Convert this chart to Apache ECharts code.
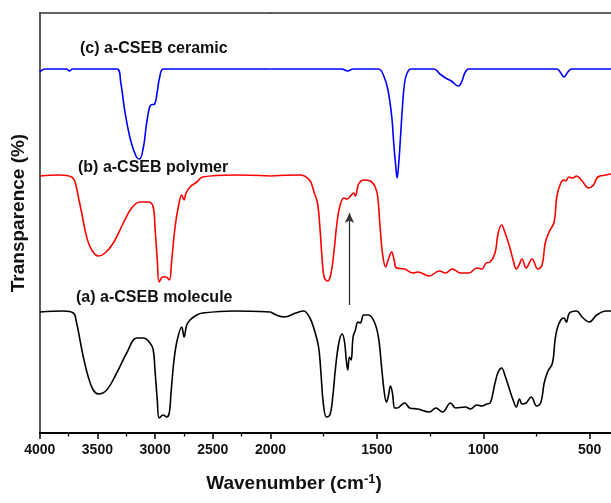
<!DOCTYPE html>
<html>
<head>
<meta charset="utf-8">
<script src="https://cdn.jsdelivr.net/npm/echarts@6/dist/echarts.min.js"></script>
<style>
html,body{margin:0;padding:0;background:#fff;}
#chart{width:611px;height:503px;}
</style>
</head>
<body>
<div id="chart"></div>
<script>
// ---- data (wavenumber in cm-1, transparence in arbitrary units) ----
const ceramicWn = [4000,3955,3770,3743,3716,3500,3331,3297,3264,3213,3162,3135,3101,3078,3054,3037,3004,2983,2960,2926,2318,2000,1665,1638,1611,1493,1466,1448,1430,1421,1412,1405,1398,1390,1381,1370,1358,1340,1232,1204,1177,1150,1118,1102,1087,1069,654,636,621,603,585,423,400];
const ceramicT  = [361,364,364,362,364,364,364,350,323,293,276,274,286,306,323,328,329,340,356,364,364,364,364,362,364,364,356,343,316,290,268,255,268,293,323,350,360,364,364,359,355,352,347,351,360,364,364,360,356,361,364,364,364];

const polymerWn = [4000,3824,3723,3694,3665,3636,3593,3549,3492,3434,3362,3275,3203,3131,3059,3016,3001,2981,2964,2934,2905,2877,2856,2827,2799,2769,2749,2732,2697,2639,2588,2318,2000,1863,1817,1794,1779,1768,1758,1748,1732,1717,1701,1686,1670,1655,1640,1624,1609,1601,1586,1562,1531,1508,1496,1485,1474,1459,1447,1431,1419,1408,1369,1331,1308,1254,1207,1177,1146,1107,1068,1030,1007,987,968,945,930,914,899,876,860,845,832,818,799,771,744,724,709,691,667,655,636,621,613,598,580,562,536,505,482,462,423,400];
const polymerT  = [257,258,256,251,236,220,196,183,177,180,190,210,225,231,231,226,206,173,151,156,156,153,173,206,226,238,233,240,246,251,256,258,257,258,253,240,230,206,176,156,152,158,183,213,230,235,234,237,240,237,249,253,252,246,236,206,180,166,173,181,173,165,164,160,161,157,162,160,164,160,160,165,164,170,171,180,200,208,201,186,173,164,168,174,165,174,164,168,190,201,211,236,250,253,252,256,255,257,252,245,248,256,258,259];

const moleculeWn = [4000,3795,3709,3680,3651,3622,3579,3536,3492,3419,3333,3246,3159,3102,3044,3016,3001,2981,2964,2929,2899,2877,2862,2836,2808,2769,2749,2726,2697,2639,2588,2318,2000,1935,1881,1845,1817,1794,1774,1763,1752,1737,1721,1709,1694,1678,1663,1652,1644,1637,1629,1621,1612,1601,1589,1578,1562,1539,1512,1493,1478,1465,1455,1447,1436,1427,1416,1404,1385,1369,1346,1308,1254,1223,1192,1154,1130,1084,1061,1030,1007,984,968,945,930,914,899,876,860,845,830,818,799,775,749,729,714,698,675,663,652,636,621,610,595,562,536,502,467,423,400];
const moleculeT  = [121,122,120,110,93,76,56,43,39,43,60,80,95,95,90,83,63,33,15,18,16,20,40,73,93,106,96,108,113,118,120,122,121,116,120,122,116,103,86,60,30,16,18,33,66,91,99,91,73,63,76,73,96,103,111,110,118,118,111,96,66,40,31,36,47,40,25,25,28,30,25,24,21,25,21,30,25,26,24,28,27,29,30,50,61,65,58,43,33,26,34,29,30,36,27,31,50,61,70,93,105,113,115,111,120,122,116,111,118,122,122];

const seriesNames = ['(a) a-CSEB molecule', '(b) a-CSEB polymer', '(c) a-CSEB ceramic'];
const majorTicksHigh = [4000, 3500, 3000, 2500, 2000];
const minorTicksHigh = [3750, 3250, 2750, 2250];
const majorTicksLow = [1500, 1000, 500];
const minorTicksLow = [1750, 1250, 750];
const arrowWn = 1629, arrowFrom = 128, arrowTo = 220;

// ---- build ----
const FONT = "'Liberation Sans', Arial, sans-serif";
function pairs(wn, t, hi) {
  const out = [];
  for (let i = 0; i < wn.length; i++) {
    if (hi ? wn[i] >= 2000 : wn[i] <= 2000) out.push([wn[i], t[i]]);
  }
  return out;
}
const curves = [
  {wn: moleculeWn, t: moleculeT, color: '#000000'},
  {wn: polymerWn, t: polymerT, color: '#ff0000'},
  {wn: ceramicWn, t: ceramicT, color: '#0000ff'}
];
const series = [];
curves.forEach((c, i) => {
  [true, false].forEach((hi, g) => {
    const s = {
      type: 'line', name: seriesNames[i], xAxisIndex: g * 3, yAxisIndex: g,
      data: pairs(c.wn, c.t, hi), showSymbol: false, symbol: 'none',
      smooth: 0.4,
      lineStyle: {color: c.color, width: 1.6}, silent: true, animation: false
    };
    if (i === 0 && !hi) {
      s.markLine = {
        silent: true, symbol: ['none', 'arrow'], symbolSize: [7, 10],
        label: {show: false},
        lineStyle: {color: '#333', width: 1.3, type: 'solid'},
        data: [[{coord: [arrowWn, arrowFrom]}, {coord: [arrowWn, arrowTo]}]]
      };
    }
    series.push(s);
  });
});

const LEFT = 39.7, BREAK = 270.5, RIGHT_END = 615.9, TOP = 13, H = 420;
function xAxesFor(gi, min, max, majors, minors) {
  return [
    {gridIndex: gi, type: 'value', min: min, max: max, inverse: true, position: 'bottom',
     axisLine: {show: true, lineStyle: {color: '#000', width: 1.8}},
     axisTick: {show: true, length: 6, customValues: majors, lineStyle: {color: '#000', width: 1.5}},
     axisLabel: {show: true, customValues: majors, margin: 10, color: '#111', fontSize: 14, fontWeight: 'bold', fontFamily: FONT,
       formatter: v => String(v)},
     splitLine: {show: false}},
    {gridIndex: gi, type: 'value', min: min, max: max, inverse: true, position: 'bottom',
     axisLine: {show: false},
     axisTick: {show: true, length: 3.5, customValues: minors, lineStyle: {color: '#000', width: 1.3}},
     axisLabel: {show: false}, splitLine: {show: false}},
    {gridIndex: gi, type: 'value', min: min, max: max, inverse: true, position: 'top',
     axisLine: {show: true, lineStyle: {color: '#333', width: 1.6}},
     axisTick: {show: false}, axisLabel: {show: false}, splitLine: {show: false}}
  ];
}

const option = {
  backgroundColor: '#ffffff',
  animation: false,
  grid: [
    {left: LEFT, top: TOP, width: BREAK - LEFT, height: H},
    {left: BREAK, top: TOP, width: RIGHT_END - BREAK, height: H}
  ],
  xAxis: [].concat(
    xAxesFor(0, 2000, 4000, majorTicksHigh, minorTicksHigh),
    xAxesFor(1, 400, 2000, majorTicksLow, minorTicksLow)
  ),
  yAxis: [
    {gridIndex: 0, type: 'value', min: 0, max: H,
     axisLine: {show: true, lineStyle: {color: '#333', width: 1.6}},
     axisTick: {show: false}, axisLabel: {show: false}, splitLine: {show: false}},
    {gridIndex: 1, type: 'value', min: 0, max: H, show: false, splitLine: {show: false}}
  ],
  series: series,
  graphic: [
    {type: 'text', left: 80, top: 41, silent: true,
     style: {text: seriesNames[2], fontSize: 16, fontWeight: 'bold', fontFamily: FONT, fill: '#111'}},
    {type: 'text', left: 78, top: 160, silent: true,
     style: {text: seriesNames[1], fontSize: 16, fontWeight: 'bold', fontFamily: FONT, fill: '#111'}},
    {type: 'text', left: 76, top: 290, silent: true,
     style: {text: seriesNames[0], fontSize: 16, fontWeight: 'bold', fontFamily: FONT, fill: '#111'}},
    {type: 'text', x: 294, y: 484, silent: true,
     style: {text: '{a|Wavenumber (cm}{s|-1}{a|)}', align: 'center', verticalAlign: 'middle',
       rich: {
         a: {fontSize: 19, fontWeight: 'bold', fontFamily: FONT, fill: '#111', lineHeight: 22},
         s: {fontSize: 13, fontWeight: 'bold', fontFamily: FONT, fill: '#111', verticalAlign: 'top', lineHeight: 22, padding: [0, 0, 8, 0]}
       }}},
    {type: 'text', x: 19, y: 213, rotation: Math.PI / 2, silent: true,
     style: {text: 'Transparence (%)', align: 'center', verticalAlign: 'middle',
       fontSize: 19, fontWeight: 'bold', fontFamily: FONT, fill: '#111'}}
  ]
};
const chart = echarts.init(document.getElementById('chart'), null, {renderer: 'canvas'});
chart.setOption(option);
</script>
</body>
</html>
